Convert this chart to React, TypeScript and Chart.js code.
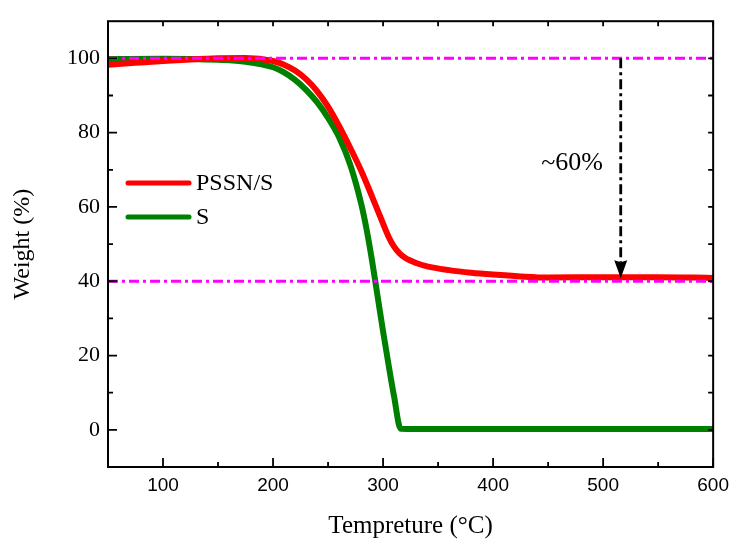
import React, { useEffect, useRef } from 'react';
import { Chart, registerables } from 'chart.js';

Chart.register(...registerables);

// ---- data ----
const tempPSSN = [50, 75, 100, 125, 150, 175, 200, 210, 220, 230, 240, 250, 260, 270, 280, 290, 300, 305, 310, 315, 320, 330, 340, 360, 380, 400, 425, 450, 500, 550, 600];
const weightPSSN = [98.3, 98.8, 99.3, 99.7, 100.0, 100.1, 99.3, 98.3, 96.7, 94.4, 91.2, 87.0, 81.8, 76.0, 69.8, 62.8, 55.5, 52.0, 49.3, 47.5, 46.3, 44.9, 44.0, 43.0, 42.3, 41.8, 41.3, 41.0, 41.1, 41.1, 40.9];

const tempS = [50, 100, 150, 175, 200, 210, 220, 230, 240, 250, 260, 270, 280, 285, 290, 295, 300, 305, 310, 316, 350, 400, 450, 500, 550, 600];
const weightS = [99.8, 99.9, 99.6, 99.1, 97.6, 96.2, 94.2, 91.5, 88.2, 84.0, 78.8, 71.5, 61.0, 54.0, 45.5, 36.0, 26.5, 17.5, 9.0, 0.3, 0.2, 0.2, 0.2, 0.2, 0.2, 0.2];

const seriesNames = ['PSSN/S', 'S'];
const seriesColors = ['#ff0000', '#008000'];

const xTickValues = [100, 200, 300, 400, 500, 600];
const yTickValues = [0, 20, 40, 60, 80, 100];
const refLineValues = [100, 40];
const arrowTemp = 516;
const arrowFrom = 100;
const arrowTo = 40.8;
const annotationText = '~60%';

const X_MIN = 50, X_MAX = 600, Y_MIN = -10, Y_MAX = 110;

const decorPlugin = {
  id: 'decor',
  afterDatasetsDraw(chart: any) {
    const { ctx, chartArea: a, scales } = chart;
    const xs = scales.x, ys = scales.y;
    ctx.save();

    // magenta reference lines
    ctx.strokeStyle = '#ff00ff';
    ctx.lineWidth = 3;
    ctx.setLineDash([10, 4, 3, 4]);
    refLineValues.forEach((v) => {
      const y = ys.getPixelForValue(v);
      ctx.beginPath();
      ctx.moveTo(a.left, y);
      ctx.lineTo(a.right, y);
      ctx.stroke();
    });

    // arrow
    const ax = xs.getPixelForValue(arrowTemp);
    const ay0 = ys.getPixelForValue(arrowFrom);
    const ay1 = ys.getPixelForValue(arrowTo);
    const headLen = 18, headW = 6.5;
    ctx.strokeStyle = '#000';
    ctx.lineWidth = 2.8;
    ctx.setLineDash([10, 4, 3, 4]);
    ctx.beginPath();
    ctx.moveTo(ax, ay0);
    ctx.lineTo(ax, ay1 - headLen + 2);
    ctx.stroke();
    ctx.setLineDash([]);
    ctx.fillStyle = '#000';
    ctx.beginPath();
    ctx.moveTo(ax, ay1);
    ctx.lineTo(ax - headW, ay1 - headLen);
    ctx.lineTo(ax, ay1 - headLen + 2);
    ctx.lineTo(ax + headW, ay1 - headLen);
    ctx.closePath();
    ctx.fill();

    // annotation text
    ctx.font = '26px "Liberation Serif"';
    ctx.textAlign = 'center';
    ctx.textBaseline = 'middle';
    ctx.fillText(annotationText, a.left + 464, 163);

    // legend
    const legY = [183, 217];
    ctx.lineCap = 'round';
    ctx.lineWidth = 5;
    seriesNames.forEach((name, i) => {
      ctx.strokeStyle = seriesColors[i];
      ctx.beginPath();
      ctx.moveTo(128, legY[i]);
      ctx.lineTo(189, legY[i]);
      ctx.stroke();
      ctx.fillStyle = '#000';
      ctx.font = '24px "Liberation Serif"';
      ctx.textAlign = 'left';
      ctx.textBaseline = 'middle';
      ctx.fillText(name, 196, legY[i] + 1);
    });
    ctx.lineCap = 'butt';

    // frame
    ctx.strokeStyle = '#000';
    ctx.lineWidth = 2;
    ctx.strokeRect(a.left, a.top, a.right - a.left, a.bottom - a.top);

    // ticks (inward)
    ctx.lineWidth = 1.8;
    ctx.beginPath();
    for (let v = X_MIN; v <= X_MAX; v += 50) {
      const x = xs.getPixelForValue(v);
      const major = v % 100 === 0;
      ctx.moveTo(x, a.bottom);
      ctx.lineTo(x, a.bottom - (major ? 9 : 5));
      ctx.moveTo(x, a.top);
      ctx.lineTo(x, a.top + 5);
    }
    for (let v = 0; v <= 100; v += 10) {
      const y = ys.getPixelForValue(v);
      const major = v % 20 === 0;
      ctx.moveTo(a.left, y);
      ctx.lineTo(a.left + (major ? 9 : 5), y);
      ctx.moveTo(a.right, y);
      ctx.lineTo(a.right - 5, y);
    }
    ctx.stroke();
    ctx.restore();
  },
};

export default function App() {
  const ref = useRef<HTMLCanvasElement | null>(null);
  useEffect(() => {
    document.body.style.margin = '0';
    const canvas = ref.current;
    if (!canvas) return;
    const chart = new Chart(canvas, {
      type: 'line',
      data: {
        datasets: [
          {
            label: seriesNames[0],
            data: tempPSSN.map((t, i) => ({ x: t, y: weightPSSN[i] })),
            borderColor: seriesColors[0],
            borderWidth: 6,
            pointRadius: 0,
            cubicInterpolationMode: 'monotone',
            fill: false,
          },
          {
            label: seriesNames[1],
            data: tempS.map((t, i) => ({ x: t, y: weightS[i] })),
            borderColor: seriesColors[1],
            borderWidth: 6,
            pointRadius: 0,
            cubicInterpolationMode: 'monotone',
            fill: false,
          },
        ],
      },
      options: {
        animation: false,
        responsive: false,
        maintainAspectRatio: false,
        layout: { padding: { left: 0, right: 22, top: 15, bottom: 0 } },
        plugins: { legend: { display: false }, tooltip: { enabled: false } },
        scales: {
          x: {
            type: 'linear',
            min: X_MIN,
            max: X_MAX,
            grid: { display: false, drawTicks: false },
            border: { display: false },
            afterBuildTicks: (s: any) => {
              s.ticks = xTickValues.map((v) => ({ value: v }));
            },
            afterFit: (s: any) => {
              s.height = 76;
            },
            ticks: {
              font: { family: 'Liberation Sans', size: 19 },
              color: '#000',
              padding: 7,
              maxRotation: 0,
              autoSkip: false,
            },
            title: {
              display: true,
              text: 'Tempreture (°C)',
              font: { family: 'Liberation Serif', size: 25 },
              color: '#000',
              padding: { top: 0, bottom: 2 },
            },
          },
          y: {
            type: 'linear',
            min: Y_MIN,
            max: Y_MAX,
            grid: { display: false, drawTicks: false },
            border: { display: false },
            afterBuildTicks: (s: any) => {
              s.ticks = yTickValues.map((v) => ({ value: v }));
            },
            afterFit: (s: any) => {
              s.width = 108;
            },
            ticks: {
              font: { family: 'Liberation Serif', size: 22 },
              color: '#000',
              padding: 8,
              autoSkip: false,
            },
            title: {
              display: true,
              text: 'Weight (%)',
              font: { family: 'Liberation Serif', size: 24 },
              color: '#000',
              padding: { top: 8, bottom: 0 },
            },
          },
        },
      },
      plugins: [decorPlugin],
    } as any);
    return () => chart.destroy();
  }, []);
  return <canvas ref={ref} width={736} height={543} style={{ display: 'block' }} />;
}
